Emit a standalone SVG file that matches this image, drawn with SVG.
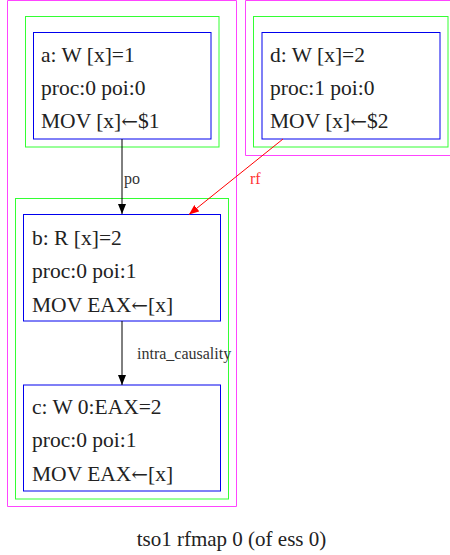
<svg xmlns="http://www.w3.org/2000/svg" width="450" height="555" viewBox="0 0 450 555">
<style>
.cl1{fill:none;stroke:#ff44ff;stroke-width:1}
.cl2{fill:none;stroke:#33ff33;stroke-width:1}
.nd{fill:none;stroke:#0000ee;stroke-width:1}
.t{font-family:"Liberation Serif","DejaVu Serif",serif;font-size:21.5px;fill:#222}
.ar{font-family:"DejaVu Serif",serif;font-size:20px}
.el{font-family:"Liberation Serif","DejaVu Serif",serif;font-size:16px;fill:#333}
.e{fill:none;stroke:#000;stroke-width:1}
</style>
<defs>
<marker id="ab" markerWidth="10" markerHeight="8" refX="10" refY="4" orient="auto" markerUnits="userSpaceOnUse"><path d="M0,0 L10,4 L0,8 z" fill="#000"/></marker>
<marker id="ar" markerWidth="10" markerHeight="8" refX="10" refY="4" orient="auto" markerUnits="userSpaceOnUse"><path d="M0,0 L10,4 L0,8 z" fill="#ff0000"/></marker>
</defs>
<g id="clusters">
<path class="cl1" d="M7.5,0.5 H236.5 V506.5 H7.5 Z"/>
<path class="cl1" d="M452,0.5 H245.5 V155.5 H452"/>
<rect class="cl2" x="25.5" y="16.5" width="193.5" height="130.5"/>
<rect class="cl2" x="15.5" y="198.5" width="213" height="300.5"/>
<rect class="cl2" x="253.5" y="16.5" width="194.5" height="130.5"/>
</g>
<g id="a">
<rect class="nd" x="33.5" y="32.5" width="177.5" height="106.5"/>
<text class="t" x="41" y="62">a: W [x]=1</text>
<text class="t" x="41" y="95">proc:0 poi:0</text>
<text class="t" x="41" y="128">MOV [x]<tspan class="ar">←</tspan>$1</text>
</g>
<g id="d">
<rect class="nd" x="262" y="32.5" width="178" height="106.5"/>
<text class="t" x="270" y="62">d: W [x]=2</text>
<text class="t" x="270" y="95">proc:1 poi:0</text>
<text class="t" x="270" y="128">MOV [x]<tspan class="ar">←</tspan>$2</text>
</g>
<g id="b">
<rect class="nd" x="23.5" y="214.5" width="197" height="106.5"/>
<text class="t" x="32" y="245">b: R [x]=2</text>
<text class="t" x="32" y="278">proc:0 poi:1</text>
<text class="t" x="32" y="312">MOV EAX<tspan class="ar">←</tspan>[x]</text>
</g>
<g id="c">
<rect class="nd" x="23.5" y="385" width="197" height="106"/>
<text class="t" x="32" y="414">c: W 0:EAX=2</text>
<text class="t" x="32" y="447">proc:0 poi:1</text>
<text class="t" x="32" y="481">MOV EAX<tspan class="ar">←</tspan>[x]</text>
</g>
<g id="edges">
<line class="e" x1="122" y1="139" x2="122" y2="214" marker-end="url(#ab)"/>
<text class="el" x="124" y="184">po</text>
<line class="e" x1="122" y1="321" x2="122" y2="385" marker-end="url(#ab)"/>
<text class="el" x="137" y="359">intra_causality</text>
<line x1="283" y1="139" x2="189" y2="214.5" stroke="#ff0000" stroke-width="1" marker-end="url(#ar)"/>
<text class="el" x="250" y="184" style="fill:#ff3333">rf</text>
</g>
<text class="t" x="231.5" y="545.5" text-anchor="middle" style="font-size:21px">tso1 rfmap 0 (of ess 0)</text>
</svg>
